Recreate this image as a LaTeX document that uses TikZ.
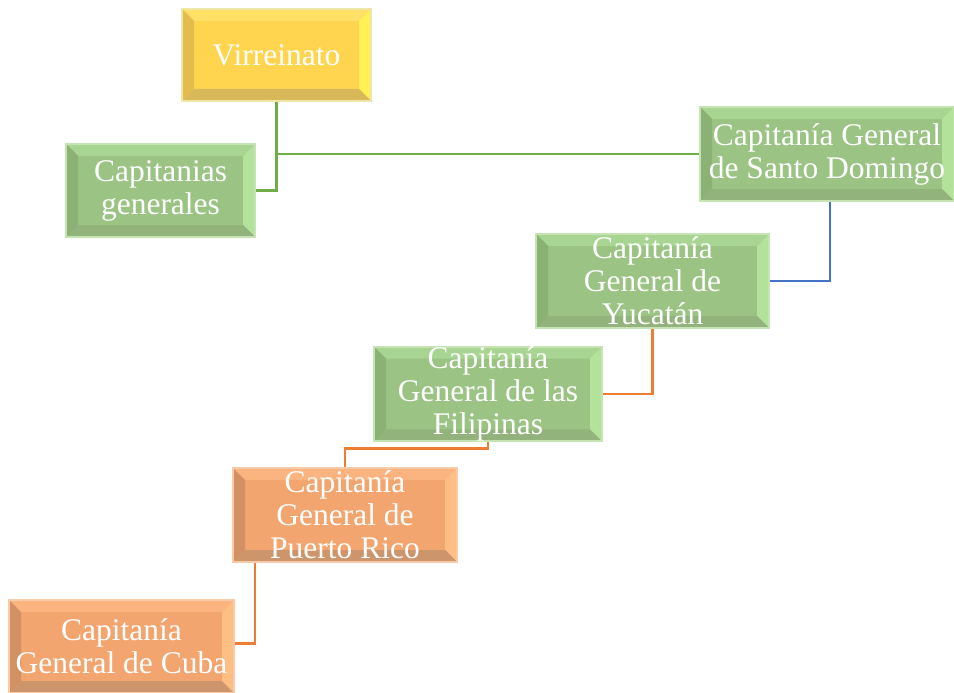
\documentclass[tikz,border=0pt]{standalone}
\usepackage{fontspec}
\setmainfont{Liberation Serif}
\definecolor{gface}{HTML}{9BC384}
\definecolor{gtop}{HTML}{A9D592}
\definecolor{gright}{HTML}{B3E39B}
\definecolor{gbot}{HTML}{92B47C}
\definecolor{gleft}{HTML}{8BB174}
\definecolor{gbord}{HTML}{C5E3B3}
\definecolor{yface}{HTML}{FFD54F}
\definecolor{ytop}{HTML}{FFE066}
\definecolor{yright}{HTML}{FFF055}
\definecolor{ybot}{HTML}{D9B85A}
\definecolor{yleft}{HTML}{E2BC4C}
\definecolor{ybord}{HTML}{EDE6A6}
\definecolor{oface}{HTML}{F3A56F}
\definecolor{otop}{HTML}{FBB47F}
\definecolor{oright}{HTML}{FFBE84}
\definecolor{obot}{HTML}{CD956B}
\definecolor{oleft}{HTML}{D39064}
\definecolor{obord}{HTML}{F8CBA8}
\definecolor{lgreen}{HTML}{70AD47}
\definecolor{lblue}{HTML}{4472C4}
\definecolor{lorange}{HTML}{ED7D31}
\newcommand\mybevel[4]{%
  \path (path picture bounding box.north west) coordinate (bnw)
        (path picture bounding box.south east) coordinate (bse);
  \fill[#1] (bnw) -- (bnw -| bse) -- ([shift={(-12,12)}]bnw -| bse) -- ([shift={(12,12)}]bnw) -- cycle;
  \fill[#2] (bnw -| bse) -- (bse) -- ([shift={(-12,-12)}]bse) -- ([shift={(-12,12)}]bnw -| bse) -- cycle;
  \fill[#3] (bse) -- (bse -| bnw) -- ([shift={(12,-12)}]bse -| bnw) -- ([shift={(-12,-12)}]bse) -- cycle;
  \fill[#4] (bse -| bnw) -- (bnw) -- ([shift={(12,12)}]bnw) -- ([shift={(12,-12)}]bse -| bnw) -- cycle;
}
\tikzset{
  box/.style={rectangle, text=white, align=center, inner sep=0pt,
    font=\fontsize{31.5}{33}\selectfont, line width=2pt},
  gbox/.style={box, fill=gface, draw=gbord, path picture={\mybevel{gtop}{gright}{gbot}{gleft}}},
  ybox/.style={box, fill=yface, draw=ybord, path picture={\mybevel{ytop}{yright}{ybot}{yleft}}},
  obox/.style={box, fill=oface, draw=obord, path picture={\mybevel{otop}{oright}{obot}{oleft}}},
  conn/.style={line width=2.6pt},
}
\begin{document}
\begin{tikzpicture}[x=1pt,y=-1pt]
\useasboundingbox (0,0) rectangle (954,693);
\node[ybox, minimum width=189pt, minimum height=92pt] (vir) at (276.5,55) {Virreinato};
\node[gbox, minimum width=189pt, minimum height=93pt] (cap) at (160.5,190.5) {Capitanias\\generales};
\node[gbox, minimum width=254pt, minimum height=94pt] (sd) at (827,154) {Capitanía General\\de Santo Domingo};
\node[gbox, minimum width=233pt, minimum height=94pt] (yuc) at (652.5,281) {Capitanía\\General de\\Yucatán};
\node[gbox, minimum width=228pt, minimum height=94pt] (fil) at (488,394) {Capitanía\\General de las\\Filipinas};
\node[obox, minimum width=224pt, minimum height=94pt] (pr) at (345,515) {Capitanía\\General de\\Puerto Rico};
\node[obox, minimum width=225pt, minimum height=93pt] (cuba) at (121.5,646.5) {Capitanía\\General de Cuba};
\draw[conn, lgreen] (vir.south) |- (cap.east);
\draw[conn, lgreen] (vir.south |- sd.west) -- (sd.west);
\draw[conn, lblue] ([xshift=3pt]sd.south) |- (yuc.east);
\draw[conn, lorange] (yuc.south) |- (fil.east);
\draw[conn, lorange] (fil.south) -- ++(0,6) -| (pr.north);
\draw[conn, lorange] ([xshift=23pt]pr.south west) |- ([yshift=3pt]cuba.east);
\end{tikzpicture}
\end{document}
